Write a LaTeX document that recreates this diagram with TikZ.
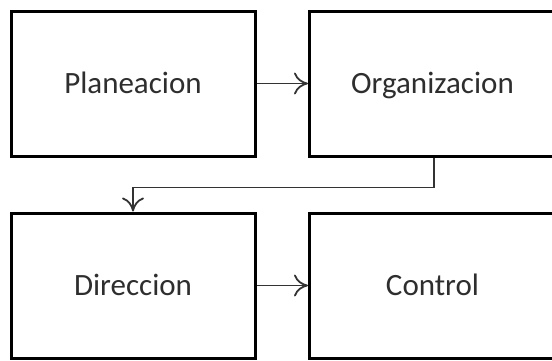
\documentclass[tikz,border=0pt]{standalone}
\usepackage{fontspec}
\setmainfont{Carlito}
\usetikzlibrary{arrows.meta}
\definecolor{txt}{HTML}{2E2E2E}
\begin{document}
\begin{tikzpicture}[x=1pt,y=-1pt,
  stage/.style={draw=black, line width=3pt, minimum width=244pt, minimum height=145pt,
    inner sep=0pt, text=txt, text height=20pt, text depth=0pt, font=\fontsize{31}{36}\selectfont},
  arr/.style={draw=black!80, line width=1.8pt, -{To[length=14pt,width=22pt,line width=1.8pt]}}]
\clip (0,0) rectangle (552,360);
\fill[white] (0,0) rectangle (552,360);
\node[stage] (plan) at (133,83.5) {Planeacion};
\node[stage, minimum width=246pt] (org) at (432.5,83.5) {Organizacion};
\node[stage] (dir) at (133,285.5) {Direccion};
\node[stage, minimum width=246pt] (ctrl) at (432.5,285.5) {Control};
\draw[arr] (plan.east) -- (org.west);
\draw[arr] (dir.east) -- (ctrl.west);
\draw[arr] ([xshift=1.5pt]org.south) -- ++(0,30) -| (dir.north);
\end{tikzpicture}
\end{document}
